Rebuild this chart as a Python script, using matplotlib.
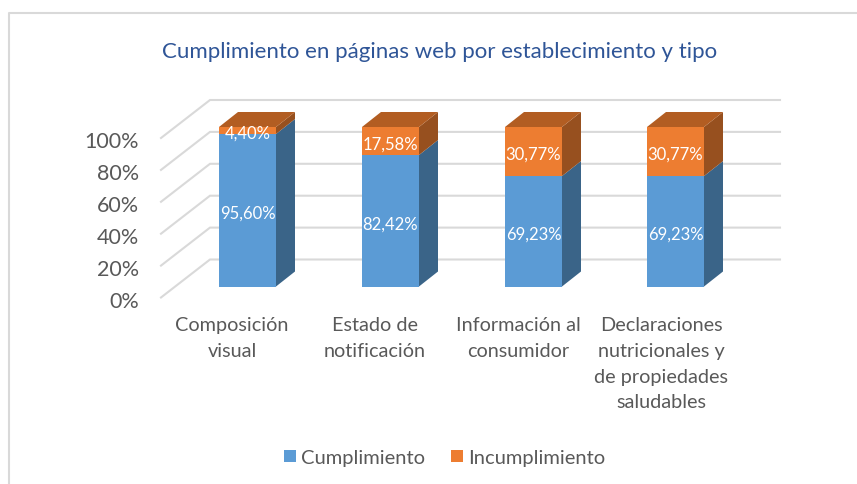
import matplotlib
matplotlib.use("Agg")
import matplotlib.pyplot as plt
from matplotlib.patches import Polygon, Rectangle

categories = ["Composición\nvisual", "Estado de\nnotificación", "Información al\nconsumidor",
              "Declaraciones\nnutricionales y\nde propiedades\nsaludables"]
cumplimiento = [95.60, 82.42, 69.23, 69.23]
incumplimiento = [4.40, 17.58, 30.77, 30.77]
yticks = [0, 20, 40, 60, 80, 100]
title = "Cumplimiento en páginas web por establecimiento y tipo"
series_names = ["Cumplimiento", "Incumplimiento"]

W, H = 857, 485
plt.rcParams['font.family'] = ['Lato', 'DejaVu Sans']

fig = plt.figure(figsize=(W / 100, H / 100), dpi=100)

# axes placed so that 0% sits at y=287px and 100% at y=127.5px
left, right = 176, 790
bottom_px, top_px = 287.5, 128
ax = fig.add_axes([left / W, 1 - bottom_px / H, (right - left) / W, (bottom_px - top_px) / H])
ax.set_xlim(left, right)
ax.set_ylim(0, 100)
ax.axis("off")

px_y = 100 / (bottom_px - top_px)  # percent per pixel
centers = [247.5, 390.5, 533.5, 675.5]
bar_w = 57
depth_x, depth_y = 19, 15 * px_y

blue = {"front": "#5b9bd5", "side": "#3a6488", "top": "#3a6488"}
orange = {"front": "#ed7d31", "side": "#97501f", "top": "#b25d22"}
grid_c = "#d9d9d9"

# gridlines on floor/back wall
for t in yticks:
    x0, y0 = 161, t - 11 * px_y
    x1, y1 = 210, t + 27 * px_y
    ax.plot([x0, x1, 780], [y0, y1, y1], color=grid_c, lw=1.5, clip_on=False,
            solid_joinstyle="miter", zorder=1)
    ax.text(139, t - 14 * px_y, f"{t}%", ha="right", va="center", fontsize=15.5, color="#595959",
            clip_on=False)


def draw_block(cx, y0, y1, colors, draw_top):
    xl = cx - bar_w / 2
    xr = cx + bar_w / 2
    ax.add_patch(Polygon([(xr, y0), (xr + depth_x, y0 + depth_y), (xr + depth_x, y1 + depth_y), (xr, y1)],
                         fc=colors["side"], ec="none", zorder=3, clip_on=False))
    ax.add_patch(Rectangle((xl, y0), bar_w, y1 - y0, fc=colors["front"], ec="none", zorder=4, clip_on=False))
    if draw_top:
        ax.add_patch(Polygon([(xl, y1), (xl + depth_x, y1 + depth_y), (xr + depth_x, y1 + depth_y), (xr, y1)],
                             fc=colors["top"], ec="none", zorder=4, clip_on=False))


label_drop = 2.5 * px_y
for cx, c, i in zip(centers, cumplimiento, incumplimiento):
    draw_block(cx, 0, c, blue, False)
    draw_block(cx, c, c + i, orange, True)
    ax.text(cx, c / 2 - label_drop, f"{c:.2f}%".replace(".", ","), color="white", ha="center", va="center",
            fontsize=12, zorder=5)
    ax.text(cx, c + i / 2 - label_drop, f"{i:.2f}%".replace(".", ","), color="white", ha="center", va="center",
            fontsize=12, zorder=5)

# category labels
label_x = [232, 375, 518, 661]
for x, lab in zip(label_x, categories):
    fig.text(x / W, 1 - 317 / H, lab, ha="center", va="top", fontsize=14.3, color="#595959",
             linespacing=1.63)

fig.text(440 / W, 1 - 52 / H, title, ha="center", va="center", fontsize=16, color="#2f5597")

# legend
for x, name, col in zip([284, 451], series_names, [blue["front"], orange["front"]]):
    fig.add_artist(Rectangle((x / W, 1 - 463 / H), 12 / W, 12 / H, transform=fig.transFigure,
                             fc=col, ec="none"))
    fig.text((x + 17) / W, 1 - 459 / H, name, ha="left", va="center", fontsize=14.5, color="#595959")

# chart frame, only top and left show in the crop
fig.add_artist(plt.Line2D([9 / W, 9 / W, 1], [0, 1 - 14 / H, 1 - 14 / H], color="#d9d9d9", lw=1.5))

fig.savefig("out.png", dpi=100)
